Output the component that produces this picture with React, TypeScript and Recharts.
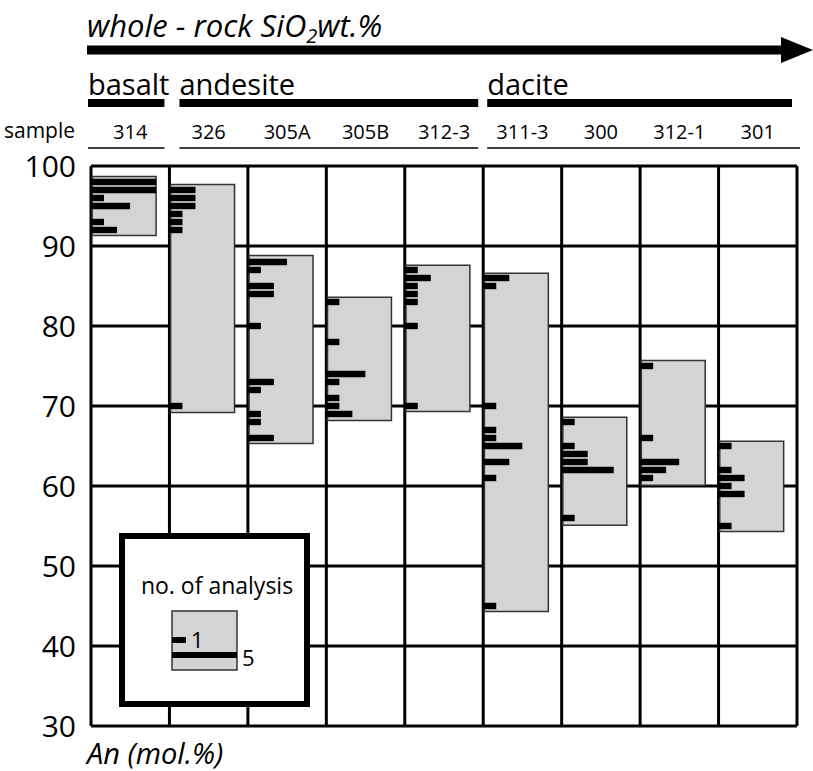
import { ComposedChart, XAxis, YAxis, CartesianGrid, ReferenceArea } from "recharts";

const FONT = "'Open Sans', sans-serif";

// plagioclase An content per sample, ordered by whole-rock SiO2
const samples = ["314", "326", "305A", "305B", "312-3", "311-3", "300", "312-1", "301"];
const groupNames = ["basalt", "andesite", "dacite"];
const groupFrom = [0, 1, 5];
const groupTo = [1, 5, 9];

// extent of the grey range box (An mol.%)
const anLow = [91.3, 69.2, 65.3, 68.2, 69.3, 44.3, 55.1, 60.1, 54.3];
const anHigh = [98.7, 97.7, 88.8, 83.6, 87.6, 86.6, 68.6, 75.7, 65.6];

// analysed An values and number of analyses at each
const anValues = [
  [98, 97, 96, 95, 93, 92],
  [97, 96, 95, 94, 93, 92, 70],
  [88, 87, 85, 84, 80, 73, 72, 69, 68, 66],
  [83, 78, 74, 73, 71, 70, 69],
  [87, 86, 85, 84, 83, 80, 70],
  [86, 85, 70, 67, 66, 65, 63, 61, 45],
  [68, 65, 64, 63, 62, 56],
  [75, 66, 63, 62, 61],
  [65, 62, 61, 60, 59, 55],
];
const anCounts = [
  [5, 5, 1, 3, 1, 2],
  [2, 2, 2, 1, 1, 1, 1],
  [3, 1, 2, 2, 1, 2, 1, 1, 1, 2],
  [1, 1, 3, 1, 1, 1, 2],
  [1, 2, 1, 1, 1, 1, 1],
  [2, 1, 1, 1, 1, 3, 2, 1, 1],
  [1, 1, 2, 2, 4, 1],
  [1, 1, 3, 2, 1],
  [1, 1, 2, 1, 2, 1],
];

const yTicks = [30, 40, 50, 60, 70, 80, 90, 100];
const colEdges = [0, 1, 2, 3, 4, 5, 6, 7, 8, 9];
const colCenters = samples.map((_, i) => i + 0.5);

const BOX_W = 0.83; // box width in column units (= 5 analyses)
const PER_COUNT = BOX_W / 5;
const HALF = 0.4; // half bar thickness in An units

const PLOT_L = 91;
const COL_W = (797 - 91) / 9;
const GROUP_PAD = [-3, 10, 4];

export default function App() {
  const data = colCenters.map((x, i) => ({ x, lo: anLow[i], hi: anHigh[i] }));
  return (
    <div style={{ position: "relative", width: 813, height: 771, overflow: "hidden", background: "#fff" }}>
      <style>{"body{margin:0}"}</style>
      <ComposedChart
        width={813}
        height={771}
        data={data}
        margin={{ top: 126, right: 16, bottom: 45, left: 0 }}
      >
        <XAxis xAxisId="grid" type="number" dataKey="x" domain={[0, 9]} ticks={colEdges} hide />
        <XAxis
          xAxisId="samples"
          orientation="top"
          type="number"
          dataKey="x"
          domain={[0, 9]}
          ticks={colCenters}
          tickFormatter={(v) => samples[Math.round(v - 0.5)]}
          height={40}
          axisLine={false}
          tickLine={false}
          tickSize={0}
          tickMargin={27}
          interval={0}
          tick={{ fill: "#000", fontSize: 20, fontFamily: FONT }}
        />
        <YAxis
          type="number"
          dataKey="hi"
          domain={[30, 100]}
          allowDataOverflow
          ticks={yTicks}
          width={91}
          axisLine={false}
          tickLine={false}
          tickSize={0}
          tickMargin={15}
          interval={0}
          tick={{ fill: "#000", fontSize: 30, fontFamily: FONT }}
        />
        <CartesianGrid xAxisId="grid" stroke="#000" strokeWidth={3} />
        {samples.map((s, i) => (
          <ReferenceArea
            key={"box" + s}
            xAxisId="grid"
            x1={i + 0.015}
            x2={i + BOX_W}
            y1={anLow[i]}
            y2={anHigh[i]}
            fill="#d3d4d6"
            fillOpacity={1}
            stroke="#333"
            strokeWidth={1.5}
          />
        ))}
        {samples.map((s, i) =>
          anValues[i].map((v, j) => (
            <ReferenceArea
              key={"bar" + s + "-" + v}
              xAxisId="grid"
              x1={i}
              x2={i + anCounts[i][j] * PER_COUNT}
              y1={v - HALF}
              y2={v + HALF}
              fill="#000"
              fillOpacity={1}
              stroke="none"
            />
          ))
        )}
      </ComposedChart>

      <svg
        width={813}
        height={771}
        style={{ position: "absolute", left: 0, top: 0, pointerEvents: "none" }}
        fontFamily={FONT}
      >
        <text x={87} y={37} fontSize={31} fontStyle="italic">
          whole - rock SiO
          <tspan fontSize={20} dy={6}>2</tspan>
          <tspan dy={-6}>wt.%</tspan>
        </text>
        <rect x={87} y={45.5} width={697} height={9} fill="#000" />
        <polygon points="781,37 813,50 781,63" fill="#000" />

        {groupNames.map((g, k) => {
          const x1 = PLOT_L + groupFrom[k] * COL_W;
          const x2 = PLOT_L + groupTo[k] * COL_W;
          const left = x1 + GROUP_PAD[k];
          const right = x2 - 5;
          return (
            <g key={g}>
              <text x={left} y={95} fontSize={29}>{g}</text>
              <rect x={left} y={99} width={right - left} height={8} fill="#000" />
              <line x1={left} x2={k === 2 ? x2 + 3 : right} y1={148} y2={148} stroke="#000" strokeWidth={1.5} />
            </g>
          );
        })}
        <text x={4} y={138} fontSize={21}>sample</text>

        <text x={87} y={764} fontSize={29} fontStyle="italic">An (mol.%)</text>

        <rect x={122} y={536} width={185} height={168} fill="#fff" stroke="#000" strokeWidth={6} />
        <text x={217} y={594} fontSize={23} textAnchor="middle">no. of analysis</text>
        <rect x={172} y={611} width={65} height={59} fill="#d3d4d6" stroke="#333" strokeWidth={1.5} />
        <rect x={172} y={637} width={14} height={6} fill="#000" />
        <text x={191} y={648} fontSize={22}>1</text>
        <rect x={172} y={652} width={65} height={6} fill="#000" />
        <text x={242} y={666} fontSize={22}>5</text>
      </svg>
    </div>
  );
}
